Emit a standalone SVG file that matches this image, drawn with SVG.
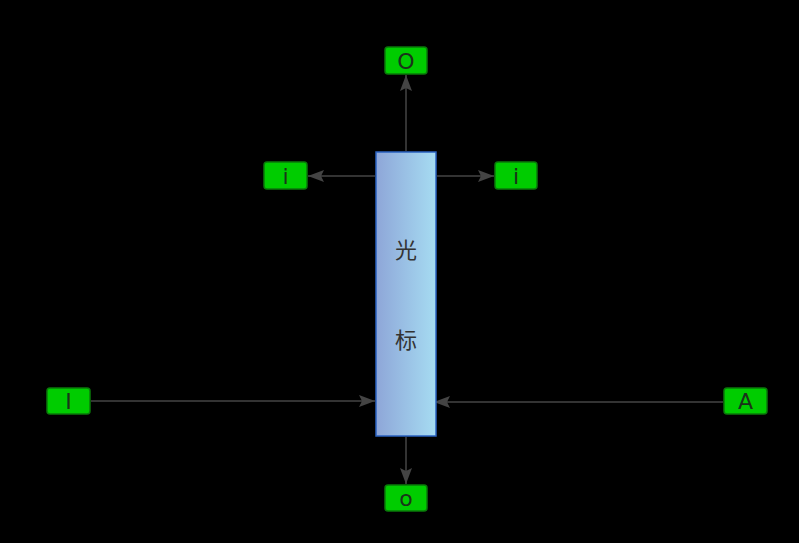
<svg xmlns="http://www.w3.org/2000/svg" width="799" height="543" viewBox="0 0 799 543">
<style>
.g rect{fill:#00cc00;stroke:#0a7a0a;stroke-width:1.5}
.g text{font-family:"DejaVu Sans","Liberation Sans",sans-serif;font-size:22px;fill:#1a331a;text-anchor:middle}
.c line{stroke:#444;stroke-width:1.5;marker-end:url(#ah)}
.m text{font-family:"Noto Sans CJK SC",sans-serif;font-size:22px;fill:#333;text-anchor:middle}
</style>
<defs>
<linearGradient id="bg" x1="0" y1="0" x2="1" y2="0">
<stop offset="0" stop-color="#8ea6d8"/>
<stop offset="1" stop-color="#a6dcf2"/>
</linearGradient>
<marker id="ah" viewBox="0 0 16 12" refX="16" refY="6" markerWidth="16" markerHeight="12" markerUnits="userSpaceOnUse" orient="auto">
<path d="M0,0 L16,6 L0,12 L3,6 Z" fill="#444"/>
</marker>
</defs>
<rect width="799" height="543" fill="#000"/>
<g id="connectors" class="c">
<line x1="406" y1="151" x2="406" y2="75"/>
<line x1="375" y1="176" x2="308" y2="176"/>
<line x1="437" y1="176" x2="494" y2="176"/>
<line x1="91" y1="401" x2="375" y2="401"/>
<line x1="723" y1="402" x2="434" y2="402"/>
<line x1="406" y1="437" x2="406" y2="484"/>
</g>
<g id="main" class="m">
<rect x="376" y="152" width="60" height="284" fill="url(#bg)" stroke="#2a62c0" stroke-width="1.5"/>
<text x="406" y="258">光</text>
<text x="406" y="348">标</text>
</g>
<g id="nO" class="g"><rect x="385" y="47" width="42" height="27" rx="3"/><text x="406" y="69">O</text></g>
<g id="niL" class="g"><rect x="264" y="162" width="43" height="27" rx="3"/><text x="285.5" y="184">i</text></g>
<g id="niR" class="g"><rect x="495" y="162" width="42" height="27" rx="3"/><text x="516" y="184">i</text></g>
<g id="nI" class="g"><rect x="47" y="388" width="43" height="26" rx="3"/><text x="68.5" y="409">I</text></g>
<g id="nA" class="g"><rect x="724" y="388" width="43" height="26" rx="3"/><text x="745.5" y="409">A</text></g>
<g id="no" class="g"><rect x="385" y="485" width="42" height="26" rx="3"/><text x="406" y="506">o</text></g>
</svg>
